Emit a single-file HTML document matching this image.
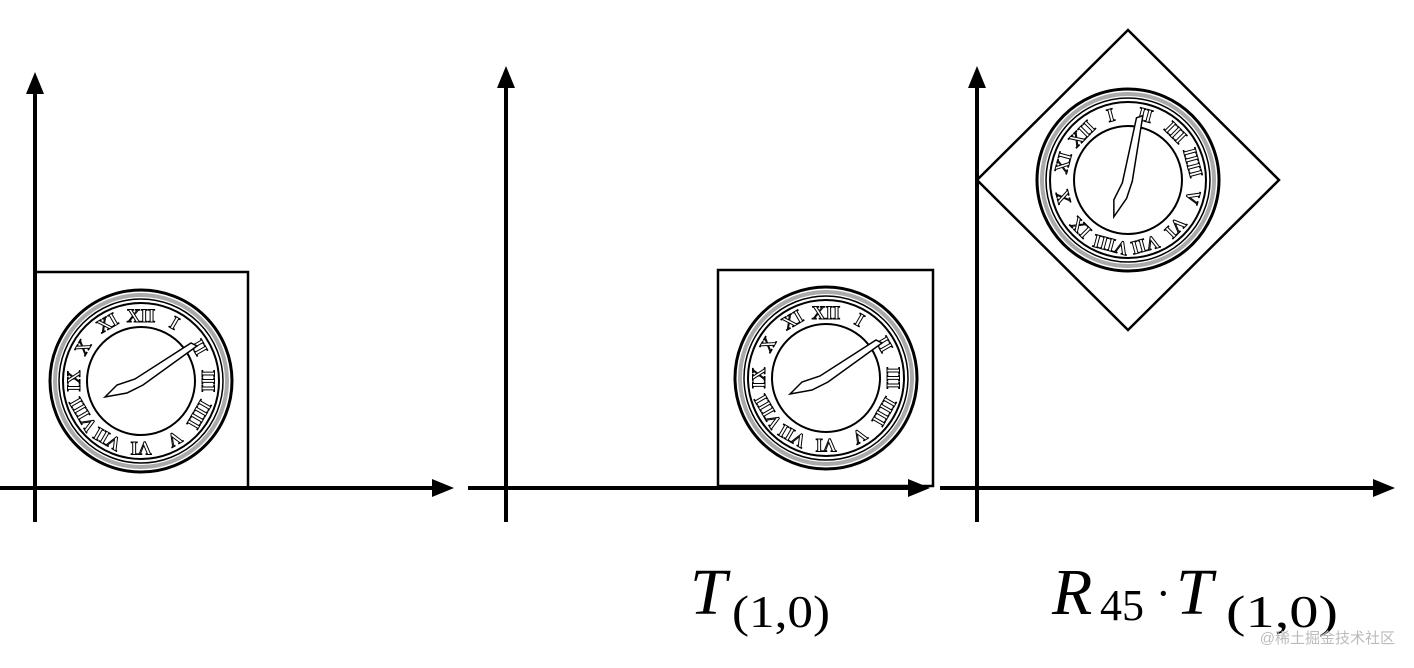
<!DOCTYPE html>
<html><head><meta charset="utf-8"><style>
html,body{margin:0;padding:0;background:#fff;width:1414px;height:668px;overflow:hidden}
svg{display:block}
.num{font-family:"Liberation Serif",serif;font-size:19px;font-weight:bold;fill:#fff;stroke:#000;stroke-width:1}
</style></head><body>
<svg width="1414" height="668" viewBox="0 0 1414 668" xmlns="http://www.w3.org/2000/svg">
<defs>
<g id="clock">
  <circle r="91" fill="#fff" stroke="#000" stroke-width="3"/>
  <circle r="86" fill="none" stroke="#aaa" stroke-width="4"/>
  <circle r="82" fill="none" stroke="#000" stroke-width="1.5"/>
  <circle r="78" fill="none" stroke="#000" stroke-width="2"/>
  <circle r="54" fill="#fff" stroke="#000" stroke-width="2"/>
  <g text-anchor="middle" class="num">
    <text x="0" y="-59">XII</text>
    <text x="33" y="-52" transform="rotate(30 33 -57)">I</text>
    <text x="57" y="-28" transform="rotate(60 57 -33)">II</text>
    <text x="66" y="5" transform="rotate(90 66 0)">III</text>
    <text x="57" y="38" transform="rotate(120 57 33)">IIII</text>
    <text x="33" y="62" transform="rotate(150 33 57)">V</text>
    <text x="0" y="71" transform="rotate(180 0 66)">VI</text>
    <text x="-33" y="62" transform="rotate(210 -33 57)">VII</text>
    <text x="-57" y="38" transform="rotate(240 -57 33)">VIII</text>
    <text x="-66" y="5" transform="rotate(270 -66 0)">IX</text>
    <text x="-57" y="-28" transform="rotate(300 -57 -33)">X</text>
    <text x="-33" y="-52" transform="rotate(330 -33 -57)">XI</text>
  </g>
  <polygon points="-36,16 -24,4 -6,-2 50,-38 56,-35 2,4 -14,12" fill="#fff" stroke="#000" stroke-width="1.5"/>
</g>
</defs>
<g stroke="#000" stroke-width="4" fill="none">
  <line x1="35" y1="90" x2="35" y2="522"/>
  <line x1="0" y1="488" x2="436" y2="488"/>
  <line x1="506" y1="84" x2="506" y2="522"/>
  <line x1="468" y1="488" x2="912" y2="488"/>
  <line x1="977" y1="84" x2="977" y2="522"/>
  <line x1="940" y1="488" x2="1377" y2="488"/>
</g>
<g fill="#000">
  <polygon points="35,72 26,94 44,94"/>
  <polygon points="454,488 432,479 432,497"/>
  <polygon points="506,66 497,88 515,88"/>
  <polygon points="930,488 908,479 908,497"/>
  <polygon points="977,66 968,88 986,88"/>
  <polygon points="1395,488 1373,479 1373,497"/>
</g>
<rect x="35" y="272" width="213" height="216" fill="none" stroke="#000" stroke-width="2.5"/>
<rect x="718" y="270" width="215" height="216" fill="none" stroke="#000" stroke-width="2.5"/>
<polygon points="977,180 1128,30 1279,180 1128,330" fill="none" stroke="#000" stroke-width="2.5"/>
<use href="#clock" transform="translate(141,381)"/>
<use href="#clock" transform="translate(826,378)"/>
<use href="#clock" transform="translate(1128,180) rotate(-45)"/>
<g font-family="Liberation Serif, serif" fill="#000">
  <text x="690" y="614" font-size="66" font-style="italic">T</text>
  <text x="732" y="627" font-size="46" textLength="98" lengthAdjust="spacingAndGlyphs">(1,0)</text>
  <text x="1052" y="614" font-size="66" font-style="italic">R</text>
  <text x="1100" y="620" font-size="44">45</text>
  <text x="1156" y="608" font-size="44">·</text>
  <text x="1176" y="614" font-size="66" font-style="italic">T</text>
  <text x="1226" y="627" font-size="46" textLength="112" lengthAdjust="spacingAndGlyphs">(1,0)</text>
</g>
<text x="1395" y="643" text-anchor="end" font-family="Liberation Sans, Noto Sans CJK SC, sans-serif" font-size="15" fill="#bbb">@稀土掘金技术社区</text>
</svg>
</body></html>
